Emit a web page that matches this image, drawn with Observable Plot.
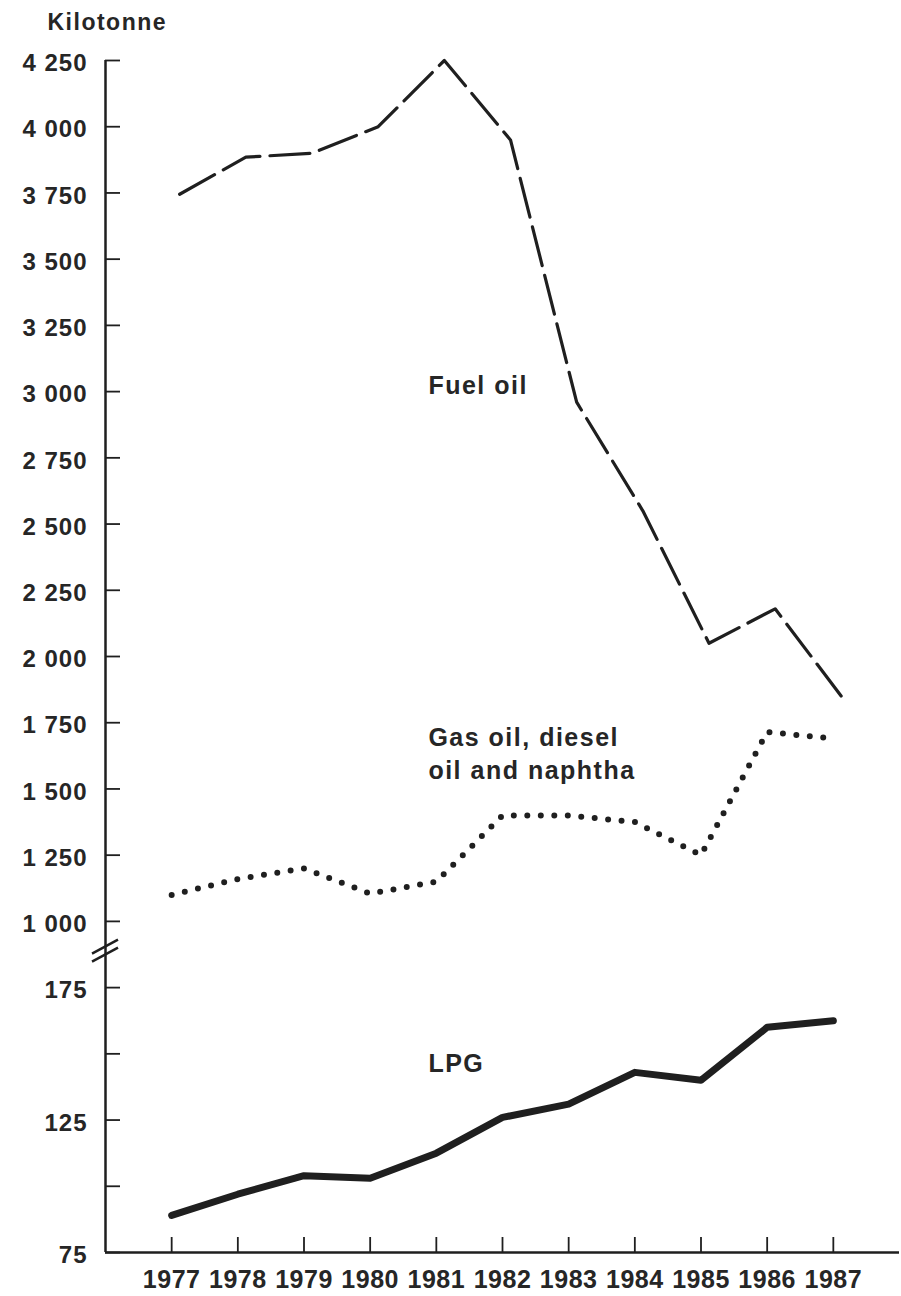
<!DOCTYPE html>
<html>
<head>
<meta charset="utf-8">
<script src="https://cdn.jsdelivr.net/npm/d3@7"></script>
<script src="https://cdn.jsdelivr.net/npm/@observablehq/plot@0.6"></script>
<style>
  body { margin: 0; background: #fff; }
  #chart svg text { fill: #262626; }
  g[aria-label="y-axis tick label"] text { letter-spacing: 1px; }
  g[aria-label="x-axis tick label"] text { letter-spacing: 0.5px; }
  text[aria-label="series-label"] { letter-spacing: 1.5px; }
  text[aria-label="unit-label"] { letter-spacing: 1.5px; }
</style>
</head>
<body>
<div id="chart"></div>
<script>
// ---- data ----
const years   = [1977, 1978, 1979, 1980, 1981, 1982, 1983, 1984, 1985, 1986, 1987];
const fuelOil = [3745, 3885, 3900, 4000, 4250, 3950, 2960, 2550, 2050, 2180, 1850];
const gasOil  = [1100, 1160, 1200, 1105, 1150, 1400, 1400, 1375, 1250, 1715, 1690];
const lpg     = [89, 97, 104, 103, 112.5, 126, 131, 143, 140, 160, 162.5];

const yTickValues = [75, 100, 125, 150, 175, 1000, 1250, 1500, 1750, 2000, 2250, 2500, 2750, 3000, 3250, 3500, 3750, 4000, 4250];
const yTickLabels = ["75", "", "125", "", "175", "1 000", "1 250", "1 500", "1 750", "2 000", "2 250", "2 500", "2 750", "3 000", "3 250", "3 500", "3 750", "4 000", "4 250"];

const seriesNames = ["Fuel oil", "Gas oil, diesel\noil and naphtha", "LPG"];
const labelYear   = [1980.88, 1980.88, 1980.88];
const labelValue  = [3030, 1640, 147];

// ---- broken axis: lower part 75–175 (step 25), upper part 1000–4250 (step 250) ----
const pos = v => v < 500 ? (v - 75) / 25 : 5 + (v - 1000) / 250;
const breakPos = 4.55;

const tickPos = yTickValues.map(pos);
const labelByPos = new Map(tickPos.map((p, i) => [p, yTickLabels[i]]));

const rows = (vals) => years.map((year, i) => ({year, value: vals[i]}));
const fuelRows = rows(fuelOil), gasRows = rows(gasOil), lpgRows = rows(lpg);
const labelRows = seriesNames.map((name, i) => ({name, year: labelYear[i], value: labelValue[i]}));

const ink = "#1f1f1f";
const xStart = 1976;
const pxPerYear = (899 - 105) / 12;
const pxPerPos = (1252 - 60) / 18;

function axisBreak(index, scales, values, dimensions) {
  const x0 = scales && scales.x ? scales.x(xStart) : dimensions.marginLeft;
  const yb = scales && scales.y ? scales.y(breakPos) : 950;
  const g = d3.create("svg:g").attr("aria-label", "axis-break");
  [-4, 4].forEach(off => {
    g.append("line")
      .attr("x1", x0 - 13).attr("y1", yb + off + 7)
      .attr("x2", x0 + 13).attr("y2", yb + off - 7)
      .attr("stroke", ink).attr("stroke-width", 2.5);
  });
  return g.node();
}

const chart = Plot.plot({
  width: 901,
  height: 1296,
  marginLeft: 105,
  marginRight: 2,
  marginTop: 60,
  marginBottom: 44,
  style: {fontFamily: "'Liberation Sans', Arial, Helvetica, sans-serif", background: "#fff", color: ink},
  x: {domain: [1976, 1988]},
  y: {domain: [0, 18]},
  marks: [
    // axis lines
    Plot.ruleX([xStart], {y1: 0, y2: 18, stroke: ink, strokeWidth: 2.5}),
    Plot.ruleY([0], {stroke: ink, strokeWidth: 2.5}),
    // inward ticks
    Plot.ruleY(tickPos, {x1: xStart, x2: xStart + 15 / pxPerYear, stroke: ink, strokeWidth: 1.8}),
    Plot.ruleX(years, {y1: 0, y2: 15 / pxPerPos, stroke: ink, strokeWidth: 1.8}),
    axisBreak,
    // tick labels
    Plot.axisY({ticks: tickPos, tickSize: 0, tickPadding: 18, tickFormat: d => labelByPos.get(d),
      fontSize: 24, fontWeight: "bold", dy: 3, label: null}),
    Plot.axisX({ticks: years, tickSize: 0, tickPadding: 18, tickFormat: d => String(d),
      fontSize: 25, fontWeight: "bold", label: null}),
    // unit label
    Plot.text(["Kilotonne"], {frameAnchor: "top-left", dx: -58, dy: -31, lineAnchor: "bottom", textAnchor: "start",
      fontSize: 23, fontWeight: "bold", ariaLabel: () => "unit-label"}),
    // series
    Plot.line(fuelRows, {x: "year", y: d => pos(d.value), dx: 8, stroke: ink, strokeWidth: 3.2, strokeDasharray: "40 10"}),
    Plot.line(gasRows, {x: "year", y: d => pos(d.value), stroke: ink, strokeWidth: 6, strokeLinecap: "round", strokeDasharray: "0 13.5"}),
    Plot.line(lpgRows, {x: "year", y: d => pos(d.value), stroke: ink, strokeWidth: 7}),
    // series labels
    Plot.text(labelRows, {x: "year", y: d => pos(d.value), text: "name", textAnchor: "start", lineAnchor: "middle",
      lineHeight: 1.32, fontSize: 25, fontWeight: "bold", ariaLabel: () => "series-label"})
  ]
});
document.getElementById("chart").appendChild(chart);
</script>
</body>
</html>
